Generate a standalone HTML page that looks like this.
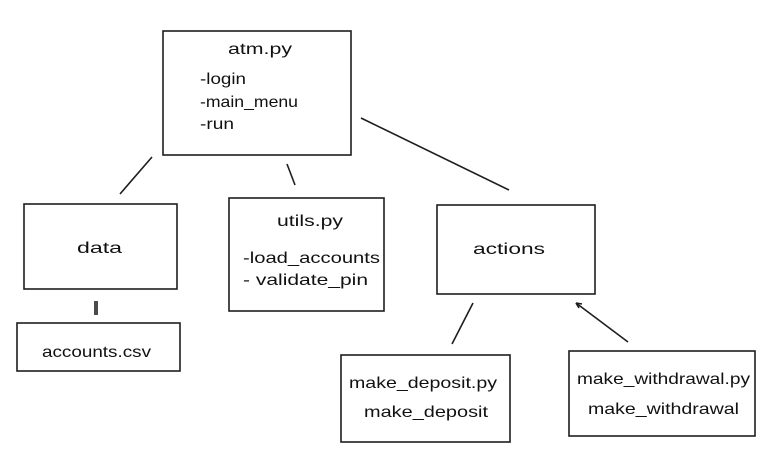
<!DOCTYPE html>
<html><head><meta charset="utf-8"><style>
html,body{margin:0;padding:0;background:#fff;}
svg{display:block;}
text{font-family:"Liberation Sans",sans-serif;font-size:16px;fill:#111;}
</style></head><body>
<svg width="776" height="476" viewBox="0 0 776 476" xmlns="http://www.w3.org/2000/svg">
<g fill="none" stroke="#1e1e1e" stroke-width="1.6">
<rect x="163" y="31" width="188" height="124"/>
<rect x="24" y="204" width="153" height="85"/>
<rect x="229" y="198" width="155" height="113"/>
<rect x="437" y="205" width="158" height="89"/>
<rect x="17" y="323" width="163" height="48"/>
<rect x="341" y="355" width="169" height="87"/>
<rect x="569" y="351" width="186" height="85"/>
<line x1="152" y1="157" x2="120" y2="194"/>
<line x1="287" y1="164" x2="295" y2="185"/>
<line x1="361" y1="118" x2="509" y2="190"/>
<line x1="95" y1="301" x2="95" y2="315"/>
<line x1="97" y1="301" x2="97" y2="315"/>
<line x1="473" y1="303" x2="452" y2="344"/>
<line x1="576" y1="303" x2="628" y2="342"/>
<line x1="576" y1="303" x2="582" y2="304"/>
<line x1="576" y1="303" x2="579" y2="308"/>
</g>
<g lengthAdjust="spacingAndGlyphs">
<text x="228" y="54" textLength="64" lengthAdjust="spacingAndGlyphs">atm.py</text>
<text x="200" y="84" textLength="46" lengthAdjust="spacingAndGlyphs">-login</text>
<text x="200" y="107" textLength="98" lengthAdjust="spacingAndGlyphs">-main_menu</text>
<text x="200" y="129" textLength="34" lengthAdjust="spacingAndGlyphs">-run</text>
<text x="77" y="253" textLength="45" lengthAdjust="spacingAndGlyphs">data</text>
<text x="277" y="226" textLength="66" lengthAdjust="spacingAndGlyphs">utils.py</text>
<text x="243" y="263" textLength="137" lengthAdjust="spacingAndGlyphs">-load_accounts</text>
<text x="243" y="285" textLength="125" lengthAdjust="spacingAndGlyphs">- validate_pin</text>
<text x="473" y="254" textLength="72" lengthAdjust="spacingAndGlyphs">actions</text>
<text x="42" y="357" textLength="109" lengthAdjust="spacingAndGlyphs">accounts.csv</text>
<text x="349" y="388" textLength="148" lengthAdjust="spacingAndGlyphs">make_deposit.py</text>
<text x="364" y="417" textLength="124" lengthAdjust="spacingAndGlyphs">make_deposit</text>
<text x="577" y="384" textLength="173" lengthAdjust="spacingAndGlyphs">make_withdrawal.py</text>
<text x="588" y="414" textLength="151" lengthAdjust="spacingAndGlyphs">make_withdrawal</text>
</g>
</svg>
</body></html>
